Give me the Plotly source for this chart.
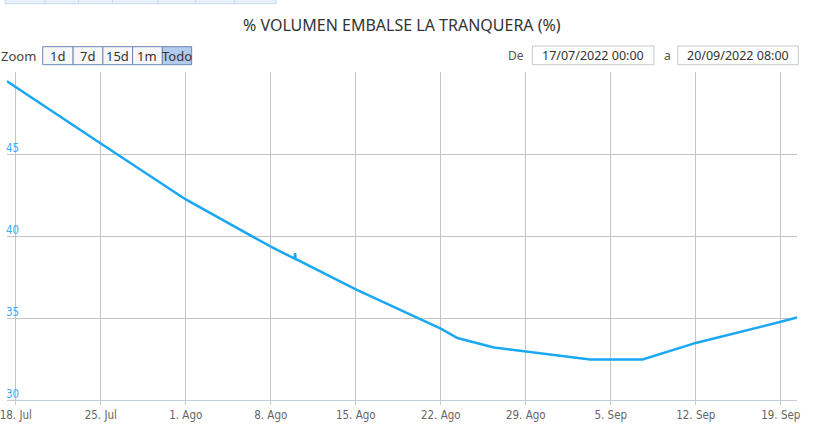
import plotly.graph_objects as go

# ---- data ----
dates = [
    "2022-07-17 06:40", "2022-07-18 00:00", "2022-07-25 00:00", "2022-08-01 00:00",
    "2022-08-08 00:00", "2022-08-09 23:00", "2022-08-10 00:00", "2022-08-10 01:00",
    "2022-08-14 00:00", "2022-08-15 00:00", "2022-08-22 00:00", "2022-08-23 09:00",
    "2022-08-26 09:00", "2022-08-29 00:00", "2022-09-01 23:00", "2022-09-03 07:00",
    "2022-09-07 15:00", "2022-09-12 00:00", "2022-09-19 00:00", "2022-09-20 08:00",
]
volumen = [
    49.44, 49.08, 45.64, 42.23,
    39.35, 38.62, 38.95, 38.60,
    37.08, 36.74, 34.35, 33.78,
    33.20, 32.97, 32.60, 32.47,
    32.47, 33.48, 34.77, 35.04,
]
x_tick_dates = ["2022-07-18", "2022-07-25", "2022-08-01", "2022-08-08", "2022-08-15",
                "2022-08-22", "2022-08-29", "2022-09-05", "2022-09-12", "2022-09-19"]
x_tick_labels = ["18. Jul", "25. Jul", "1. Ago", "8. Ago", "15. Ago",
                 "22. Ago", "29. Ago", "5. Sep", "12. Sep", "19. Sep"]
y_tick_vals = [30, 35, 40, 45, 50]
y_tick_labels = ["30", "35", "40", "45", ""]
zoom_buttons = ["1d", "7d", "15d", "1m", "Todo"]
date_from = "17/07/2022 00:00"
date_to = "20/09/2022 08:00"
title_text = "% VOLUMEN EMBALSE LA TRANQUERA (%)"

# ---- layout geometry ----
W, H = 813, 428
L, R, T, B = 0, 16, 72, 28
PW, PH = W - L - R, H - T - B


def px(x):
    return (x - L) / PW


def py(y):
    return (H - B - y) / PH


UI_FONT = "Noto Sans, Open Sans, sans-serif"
NARROW = "Liberation Sans Narrow, DejaVu Sans Condensed, sans-serif"

fig = go.Figure()
fig.add_trace(go.Scatter(
    x=dates, y=volumen, mode="lines",
    line=dict(color="#1aa7f3", width=2.5),
    hoverinfo="x+y", showlegend=False,
))

shapes = []
annotations = []

# title
annotations.append(dict(text=title_text, xref="paper", yref="paper", x=0.5, y=py(25),
                        xanchor="center", yanchor="middle", showarrow=False,
                        font=dict(family=UI_FONT, size=16, color="#333333")))

# top tab strip (page decoration)
shapes.append(dict(type="rect", xref="paper", yref="paper", x0=px(-2), x1=px(271.5),
                   y0=py(-4), y1=py(3.7), fillcolor="#e8f1fb",
                   line=dict(color="#c3d9ef", width=1), layer="above"))
for xd in [38.3, 72.3, 106.3, 152.3, 190.3, 229.3]:
    shapes.append(dict(type="line", xref="paper", yref="paper", x0=px(xd), x1=px(xd),
                       y0=py(0), y1=py(3.7), line=dict(color="#c3d9ef", width=1)))

# zoom label & buttons
annotations.append(dict(text="Zoom", xref="paper", yref="paper", x=px(31), y=py(56),
                        xanchor="right", yanchor="middle", showarrow=False,
                        font=dict(family=UI_FONT, size=13, color="#444444")))
btn_edges = [36, 66.7, 96.7, 126.7, 156.7, 186.3]
for i, lab in enumerate(zoom_buttons):
    x0, x1 = btn_edges[i], btn_edges[i + 1]
    fill = "#b3cbee" if lab == "Todo" else "#f7f7f7"
    shapes.append(dict(type="rect", xref="paper", yref="paper", x0=px(x0), x1=px(x1),
                       y0=py(46.7), y1=py(64.7), fillcolor=fill,
                       line=dict(color="#6d87b3", width=1)))
    annotations.append(dict(text=lab, xref="paper", yref="paper", x=px((x0 + x1) / 2),
                            y=py(56), xanchor="center", yanchor="middle", showarrow=False,
                            font=dict(family=UI_FONT, size=13, color="#333333")))

# date range inputs
annotations.append(dict(text="De", xref="paper", yref="paper", x=px(523.5), y=py(56),
                        xanchor="right", yanchor="middle", showarrow=False,
                        font=dict(family=UI_FONT, size=12, color="#555555")))
annotations.append(dict(text="a", xref="paper", yref="paper", x=px(666), y=py(56),
                        xanchor="center", yanchor="middle", showarrow=False,
                        font=dict(family=UI_FONT, size=12, color="#555555")))
for (x0, x1, txt) in [(530, 652.7, date_from), (676.7, 798.3, date_to)]:
    shapes.append(dict(type="rect", xref="paper", yref="paper", x0=px(x0), x1=px(x1),
                       y0=py(46), y1=py(64.7), fillcolor="#ffffff",
                       line=dict(color="#c8c8c8", width=1)))
    annotations.append(dict(text=txt, xref="paper", yref="paper", x=px((x0 + x1) / 2),
                            y=py(56), xanchor="center", yanchor="middle", showarrow=False,
                            font=dict(family=UI_FONT, size=12.5, color="#333333")))

fig.update_layout(
    width=W, height=H,
    margin=dict(l=L, r=R, t=T, b=B, pad=0),
    paper_bgcolor="#ffffff", plot_bgcolor="#ffffff",
    shapes=shapes, annotations=annotations,
    showlegend=False,
    xaxis=dict(
        type="date", range=["2022-07-17 06:40", "2022-09-20 08:00"],
        tickmode="array", tickvals=x_tick_dates, ticktext=x_tick_labels,
        showgrid=True, gridcolor="#c4c4c4", gridwidth=1,
        showline=True, linecolor="#c4ccd8", linewidth=1,
        ticks="outside", ticklen=4, tickcolor="#c4ccd8",
        tickfont=dict(family=NARROW, size=11.5, color="#666666"),
        ticklabeloverflow="allow",
        zeroline=False, fixedrange=True,
    ),
    yaxis=dict(
        range=[30, 50], tickmode="array", tickvals=y_tick_vals, ticktext=y_tick_labels,
        showgrid=True, gridcolor="#c4c4c4", gridwidth=1,
        showline=False, zeroline=False, ticks="",
        ticklabelposition="inside", ticklabelshift=-6, ticklabelstandoff=-4,
        ticklabeloverflow="allow",
        tickfont=dict(family=NARROW, size=11.5, color="#3fa9f5"),
        fixedrange=True,
    ),
)

fig.write_html(
    "out.html",
    config={"displayModeBar": False},
    post_script="document.body.style.margin='0px';document.body.style.overflow='hidden';",
)
